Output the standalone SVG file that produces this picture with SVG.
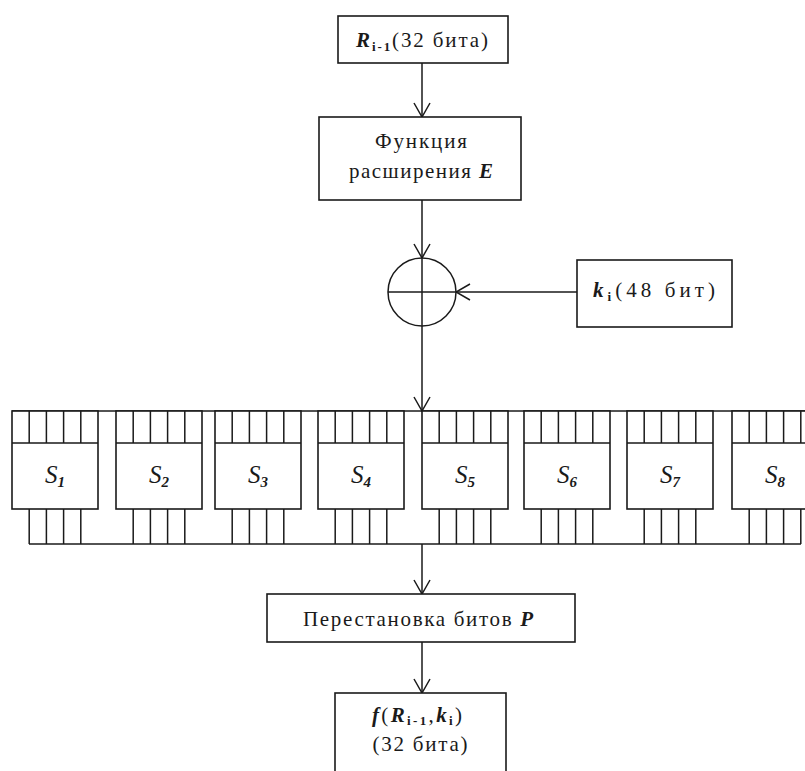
<svg xmlns="http://www.w3.org/2000/svg" width="805" height="771" viewBox="0 0 805 771">
<style>
.box{fill:#fff;stroke:#1a1a1a;stroke-width:1.6}
.ln{stroke:#1a1a1a;stroke-width:1.5;fill:none}
.t{font-family:"Liberation Serif","Times New Roman",serif;font-size:21px;fill:#1a1a1a;text-anchor:middle}
.i{font-style:italic;font-weight:bold}
.sub{font-size:13px;font-weight:bold}
.s{font-family:"Liberation Serif","Times New Roman",serif;font-size:25px;font-style:italic;fill:#1a1a1a;text-anchor:middle}
.sn{font-size:15px;font-weight:bold}
</style>
<defs>
<marker id="arr" viewBox="0 0 16 20" refX="15" refY="10" markerWidth="16" markerHeight="20" markerUnits="userSpaceOnUse" orient="auto">
<path d="M1,2 L15,10 L1,18" fill="none" stroke="#1a1a1a" stroke-width="1.5"/>
</marker>
</defs>
<rect width="805" height="771" fill="#fff"/>

<g id="connectors">
<line class="ln" x1="422" y1="63" x2="422" y2="117" marker-end="url(#arr)"/>
<line class="ln" x1="422" y1="200" x2="422" y2="258" marker-end="url(#arr)"/>
<line class="ln" x1="577" y1="292" x2="456" y2="292" marker-end="url(#arr)"/>
<line class="ln" x1="422" y1="326" x2="422" y2="411" marker-end="url(#arr)"/>
<line class="ln" x1="422" y1="544" x2="422" y2="594" marker-end="url(#arr)"/>
<line class="ln" x1="422" y1="642" x2="422" y2="693" marker-end="url(#arr)"/>
</g>

<g id="node-r">
<rect class="box" x="338" y="16" width="170" height="47"/>
<text class="t" x="422" y="47" textLength="132" lengthAdjust="spacing"><tspan class="i">R</tspan><tspan class="sub" dy="4">i-1</tspan><tspan dy="-4">(32 бита)</tspan></text>
</g>

<g id="node-e">
<rect class="box" x="319" y="117" width="202" height="83"/>
<text class="t" x="421" y="148" textLength="92" lengthAdjust="spacing">Функция</text>
<text class="t" x="421" y="178" textLength="144" lengthAdjust="spacing">расширения <tspan class="i">E</tspan></text>
</g>

<g id="node-xor">
<circle cx="422" cy="292" r="34" fill="#fff" stroke="#1a1a1a" stroke-width="1.5"/>
<line class="ln" x1="422" y1="258" x2="422" y2="326"/>
<line class="ln" x1="388" y1="292" x2="456" y2="292"/>
</g>

<g id="node-k">
<rect class="box" x="577" y="260" width="155" height="67"/>
<text class="t" x="654" y="297" textLength="122" lengthAdjust="spacing"><tspan class="i">k</tspan><tspan class="sub" dy="4">i</tspan><tspan dy="-4">(48 бит)</tspan></text>
</g>

<g id="sboxes">
<line class="ln" x1="12" y1="411" x2="805" y2="411"/>
<line class="ln" x1="29" y1="544" x2="801" y2="544"/>
<g id="s1">
<rect class="box" x="12" y="411" width="86" height="98"/>
<path class="ln" d="M12,443H98M29.2,411V443M46.4,411V443M63.6,411V443M80.8,411V443M29.2,509V544M46.4,509V544M63.6,509V544M80.8,509V544"/>
<text class="s" x="55" y="483">S<tspan class="sn" dy="4">1</tspan></text>
</g>
<g id="s2">
<rect class="box" x="116" y="411" width="86" height="98"/>
<path class="ln" d="M116,443H202M133.2,411V443M150.4,411V443M167.6,411V443M184.8,411V443M133.2,509V544M150.4,509V544M167.6,509V544M184.8,509V544"/>
<text class="s" x="159" y="483">S<tspan class="sn" dy="4">2</tspan></text>
</g>
<g id="s3">
<rect class="box" x="215" y="411" width="86" height="98"/>
<path class="ln" d="M215,443H301M232.2,411V443M249.4,411V443M266.6,411V443M283.8,411V443M232.2,509V544M249.4,509V544M266.6,509V544M283.8,509V544"/>
<text class="s" x="258" y="483">S<tspan class="sn" dy="4">3</tspan></text>
</g>
<g id="s4">
<rect class="box" x="318" y="411" width="86" height="98"/>
<path class="ln" d="M318,443H404M335.2,411V443M352.4,411V443M369.6,411V443M386.8,411V443M335.2,509V544M352.4,509V544M369.6,509V544M386.8,509V544"/>
<text class="s" x="361" y="483">S<tspan class="sn" dy="4">4</tspan></text>
</g>
<g id="s5">
<rect class="box" x="422" y="411" width="86" height="98"/>
<path class="ln" d="M422,443H508M439.2,411V443M456.4,411V443M473.6,411V443M490.8,411V443M439.2,509V544M456.4,509V544M473.6,509V544M490.8,509V544"/>
<text class="s" x="465" y="483">S<tspan class="sn" dy="4">5</tspan></text>
</g>
<g id="s6">
<rect class="box" x="524" y="411" width="86" height="98"/>
<path class="ln" d="M524,443H610M541.2,411V443M558.4,411V443M575.6,411V443M592.8,411V443M541.2,509V544M558.4,509V544M575.6,509V544M592.8,509V544"/>
<text class="s" x="567" y="483">S<tspan class="sn" dy="4">6</tspan></text>
</g>
<g id="s7">
<rect class="box" x="627" y="411" width="86" height="98"/>
<path class="ln" d="M627,443H713M644.2,411V443M661.4,411V443M678.6,411V443M695.8,411V443M644.2,509V544M661.4,509V544M678.6,509V544M695.8,509V544"/>
<text class="s" x="670" y="483">S<tspan class="sn" dy="4">7</tspan></text>
</g>
<g id="s8">
<rect class="box" x="732" y="411" width="86" height="98"/>
<path class="ln" d="M732,443H818M749.2,411V443M766.4,411V443M783.6,411V443M800.8,411V443M749.2,509V544M766.4,509V544M783.6,509V544M800.8,509V544"/>
<text class="s" x="775" y="483">S<tspan class="sn" dy="4">8</tspan></text>
</g>
</g>

<g id="node-p">
<rect class="box" x="267" y="594" width="308" height="48"/>
<text class="t" x="418" y="626" textLength="230" lengthAdjust="spacing">Перестановка битов <tspan class="i">P</tspan></text>
</g>

<g id="node-f">
<rect class="box" x="335" y="693" width="171" height="95"/>
<text class="t" x="417" y="722" textLength="90" lengthAdjust="spacing"><tspan class="i">f</tspan>(<tspan class="i">R</tspan><tspan class="sub" dy="3">i-1</tspan><tspan dy="-3">,</tspan><tspan class="i">k</tspan><tspan class="sub" dy="3">i</tspan><tspan dy="-3">)</tspan></text>
<text class="t" x="420" y="751" textLength="95" lengthAdjust="spacing">(32 бита)</text>
</g>
</svg>
